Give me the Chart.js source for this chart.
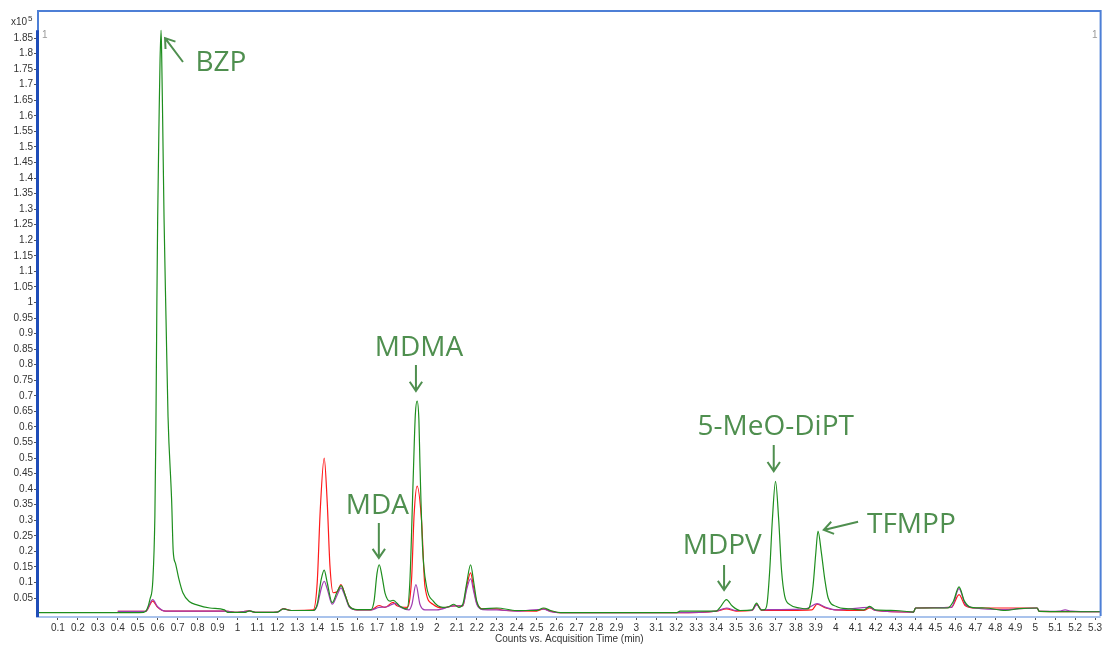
<!DOCTYPE html>
<html>
<head>
<meta charset="utf-8">
<script src="https://cdn.jsdelivr.net/npm/chart.js@4.4.1/dist/chart.umd.min.js"></script>
<style>
    html, body { margin: 0; padding: 0; background: #fff; }
    #wrap { width: 1104px; height: 647px; position: relative; }
</style>
</head>
<body>
<div id="wrap"><canvas id="chart-eic"></canvas></div>
<script>
// acquisition time (min) / counts (x10^5)
const greenTime = [0, 0.4, 0.53, 0.546, 0.561, 0.576, 0.586, 0.591, 0.596, 0.6, 0.607, 0.612, 0.617, 0.62, 0.625, 0.632, 0.642, 0.652, 0.67, 0.678, 0.69, 0.705, 0.727, 0.76, 0.797, 0.862, 0.935, 0.95, 1.0, 1.04, 1.06, 1.09, 1.2, 1.23, 1.27, 1.38, 1.4, 1.42, 1.435, 1.45, 1.475, 1.5, 1.52, 1.54, 1.56, 1.6, 1.67, 1.685, 1.7, 1.711, 1.725, 1.74, 1.765, 1.78, 1.815, 1.85, 1.865, 1.881, 1.892, 1.901, 1.91, 1.915, 1.928, 1.948, 1.982, 2.03, 2.06, 2.085, 2.11, 2.13, 2.15, 2.169, 2.185, 2.2, 2.23, 2.3, 2.4, 2.5, 2.535, 2.57, 2.62, 3.2, 3.22, 3.4, 3.42, 3.452, 3.48, 3.52, 3.58, 3.603, 3.625, 3.644, 3.656, 3.669, 3.682, 3.698, 3.714, 3.728, 3.744, 3.77, 3.82, 3.86, 3.87, 3.886, 3.9, 3.911, 3.928, 3.945, 3.962, 4.003, 4.07, 4.14, 4.17, 4.2, 4.3, 4.39, 4.4, 4.56, 4.59, 4.618, 4.645, 4.68, 4.75, 4.85, 4.92, 5.01, 5.02, 5.33];
const greenCounts = [0.003, 0.003, 0.004, 0.013, 0.045, 0.109, 0.312, 0.582, 1.0, 1.27, 1.59, 1.78, 1.875, 1.8, 1.59, 1.27, 0.945, 0.633, 0.365, 0.2, 0.16, 0.115, 0.066, 0.038, 0.028, 0.018, 0.012, 0.004, 0.004, 0.004, 0.009, 0.004, 0.005, 0.015, 0.01, 0.01, 0.03, 0.11, 0.14, 0.1, 0.035, 0.07, 0.09, 0.06, 0.025, 0.013, 0.013, 0.04, 0.13, 0.157, 0.12, 0.066, 0.04, 0.043, 0.024, 0.015, 0.109, 0.43, 0.64, 0.683, 0.62, 0.485, 0.216, 0.088, 0.04, 0.02, 0.022, 0.03, 0.02, 0.03, 0.1, 0.157, 0.1, 0.04, 0.015, 0.018, 0.01, 0.01, 0.018, 0.01, 0.003, 0.003, 0.008, 0.008, 0.02, 0.045, 0.025, 0.01, 0.012, 0.034, 0.012, 0.013, 0.034, 0.14, 0.3, 0.425, 0.3, 0.14, 0.056, 0.029, 0.018, 0.015, 0.024, 0.088, 0.195, 0.265, 0.195, 0.11, 0.05, 0.023, 0.015, 0.012, 0.023, 0.012, 0.01, 0.005, 0.018, 0.018, 0.04, 0.086, 0.04, 0.02, 0.018, 0.01, 0.016, 0.018, 0.007, 0.006];

const redTime = [0.4, 0.54, 0.575, 0.6, 0.64, 0.94, 1.0, 1.06, 1.09, 1.2, 1.23, 1.27, 1.38, 1.4, 1.415, 1.435, 1.45, 1.464, 1.48, 1.5, 1.519, 1.54, 1.56, 1.6, 1.67, 1.71, 1.74, 1.78, 1.8, 1.85, 1.873, 1.886, 1.901, 1.923, 1.94, 1.98, 2.03, 2.085, 2.13, 2.15, 2.169, 2.185, 2.2, 2.23, 2.3, 2.34, 2.5, 2.535, 2.57, 2.62, 3.2, 3.4, 3.452, 3.5, 3.58, 3.603, 3.63, 3.88, 3.906, 3.95, 4.0, 4.14, 4.17, 4.2, 4.39, 4.4, 4.58, 4.618, 4.65, 4.7, 5.01, 5.02, 5.33];
const redCounts = [0.007, 0.007, 0.04, 0.02, 0.008, 0.008, 0.004, 0.009, 0.004, 0.005, 0.016, 0.01, 0.012, 0.1, 0.33, 0.5, 0.36, 0.152, 0.067, 0.07, 0.093, 0.06, 0.025, 0.012, 0.012, 0.026, 0.02, 0.036, 0.025, 0.02, 0.11, 0.32, 0.41, 0.3, 0.088, 0.03, 0.018, 0.025, 0.025, 0.09, 0.131, 0.08, 0.035, 0.015, 0.015, 0.01, 0.008, 0.015, 0.008, 0.003, 0.003, 0.008, 0.015, 0.008, 0.01, 0.03, 0.01, 0.012, 0.03, 0.018, 0.012, 0.01, 0.018, 0.01, 0.005, 0.018, 0.02, 0.061, 0.025, 0.018, 0.018, 0.007, 0.006];

const purpleTime = [0.4, 0.54, 0.575, 0.6, 0.64, 0.94, 1.0, 1.06, 1.09, 1.2, 1.23, 1.27, 1.38, 1.4, 1.42, 1.435, 1.45, 1.475, 1.5, 1.519, 1.54, 1.56, 1.6, 1.67, 1.71, 1.75, 1.79, 1.82, 1.86, 1.875, 1.895, 1.915, 1.94, 2.0, 2.085, 2.13, 2.15, 2.169, 2.185, 2.2, 2.23, 2.3, 2.4, 2.535, 2.57, 2.62, 3.2, 3.4, 3.452, 3.5, 3.58, 3.603, 3.63, 3.7, 3.85, 3.906, 3.95, 4.0, 4.17, 4.2, 4.39, 4.4, 4.58, 4.618, 4.65, 4.7, 4.85, 4.92, 5.01, 5.02, 5.12, 5.15, 5.18, 5.33];
const purpleCounts = [0.007, 0.007, 0.045, 0.022, 0.008, 0.008, 0.004, 0.009, 0.004, 0.005, 0.015, 0.01, 0.01, 0.025, 0.08, 0.104, 0.08, 0.03, 0.06, 0.083, 0.055, 0.022, 0.012, 0.012, 0.02, 0.022, 0.033, 0.02, 0.012, 0.03, 0.093, 0.03, 0.012, 0.012, 0.025, 0.025, 0.08, 0.112, 0.07, 0.03, 0.013, 0.012, 0.008, 0.014, 0.006, 0.003, 0.003, 0.008, 0.018, 0.01, 0.01, 0.028, 0.012, 0.013, 0.015, 0.032, 0.02, 0.012, 0.02, 0.01, 0.005, 0.018, 0.02, 0.08, 0.03, 0.018, 0.013, 0.016, 0.018, 0.007, 0.008, 0.012, 0.008, 0.006];

const xTicks = [0.1, 0.2, 0.3, 0.4, 0.5, 0.6, 0.7, 0.8, 0.9, 1, 1.1, 1.2, 1.3, 1.4, 1.5, 1.6, 1.7, 1.8, 1.9, 2, 2.1, 2.2, 2.3, 2.4, 2.5, 2.6, 2.7, 2.8, 2.9, 3, 3.1, 3.2, 3.3, 3.4, 3.5, 3.6, 3.7, 3.8, 3.9, 4, 4.1, 4.2, 4.3, 4.4, 4.5, 4.6, 4.7, 4.8, 4.9, 5, 5.1, 5.2, 5.3];
const yTicks = [0.05, 0.1, 0.15, 0.2, 0.25, 0.3, 0.35, 0.4, 0.45, 0.5, 0.55, 0.6, 0.65, 0.7, 0.75, 0.8, 0.85, 0.9, 0.95, 1, 1.05, 1.1, 1.15, 1.2, 1.25, 1.3, 1.35, 1.4, 1.45, 1.5, 1.55, 1.6, 1.65, 1.7, 1.75, 1.8, 1.85];

// compound labels: text position and arrow (tail -> tip), in data units
const peakNames  = ['BZP', 'MDMA', 'MDA', '5-MeO-DiPT', 'MDPV', 'TFMPP'];
const labelTime  = [0.917, 1.91, 1.702, 3.699, 3.431, 4.379];
const labelCount = [1.773, 0.857, 0.349, 0.603, 0.221, 0.288];
const arrowFrom  = [[0.727, 1.773], [1.895, 0.799], [1.709, 0.291], [3.689, 0.542], [3.44, 0.156], [4.112, 0.295]];
const arrowTo    = [[0.637, 1.85], [1.895, 0.716], [1.709, 0.179], [3.689, 0.458], [3.44, 0.076], [3.94, 0.269]];

const toPoints = (ts, vs) => ts.map((t, i) => ({ x: t, y: vs[i] }));
const fmt = v => String(Math.round(v * 100) / 100);

const ANNOT = '#4f8f4f';

const framePlugin = {
    id: 'frame',
    afterDraw(chart) {
        const { ctx, chartArea: a, scales: { x, y } } = chart;
        ctx.save();

        // frame
        ctx.strokeStyle = '#4d7fd6';
        ctx.lineWidth = 2;
        ctx.beginPath();
        ctx.moveTo(a.left - 1, a.top);
        ctx.lineTo(a.right, a.top);
        ctx.lineTo(a.right, a.bottom);
        ctx.moveTo(a.left, a.top);
        ctx.lineTo(a.left, y.getPixelForValue(1.87));
        ctx.stroke();

        ctx.strokeStyle = '#a9c3ec';
        ctx.beginPath();
        ctx.moveTo(a.left - 2, a.bottom + 1);
        ctx.lineTo(a.right, a.bottom + 1);
        ctx.stroke();

        ctx.strokeStyle = '#1f4db8';
        ctx.lineWidth = 3;
        ctx.beginPath();
        ctx.moveTo(a.left - 0.5, y.getPixelForValue(1.875));
        ctx.lineTo(a.left - 0.5, a.bottom + 1);
        ctx.stroke();

        // exponent + small "1" markers
        ctx.fillStyle = '#333';
        ctx.font = '10px "Liberation Sans"';
        ctx.textBaseline = 'middle';
        ctx.textAlign = 'left';
        ctx.fillText('x10', 11, 22);
        ctx.font = '8px "Liberation Sans"';
        ctx.fillText('5', 28, 19);
        ctx.fillStyle = '#999';
        ctx.font = '10px "Liberation Sans"';
        ctx.fillText('1', a.left + 4, 35);
        ctx.textAlign = 'right';
        ctx.fillText('1', a.right - 3, 35);

        // axis title
        ctx.fillStyle = '#333';
        ctx.textAlign = 'center';
        ctx.fillText('Counts vs. Acquisition Time (min)', (a.left + a.right) / 2, 639);

        // peak names and arrows
        ctx.fillStyle = ANNOT;
        ctx.strokeStyle = ANNOT;
        ctx.lineWidth = 2;
        ctx.font = '28px "Open Sans"';
        ctx.textAlign = 'center';
        ctx.textBaseline = 'middle';
        peakNames.forEach((name, i) => {
            ctx.fillText(name, x.getPixelForValue(labelTime[i]), y.getPixelForValue(labelCount[i]) + 1);
            const x1 = x.getPixelForValue(arrowFrom[i][0]), y1 = y.getPixelForValue(arrowFrom[i][1]);
            const x2 = x.getPixelForValue(arrowTo[i][0]),   y2 = y.getPixelForValue(arrowTo[i][1]);
            const ang = Math.atan2(y2 - y1, x2 - x1);
            const head = 11, spread = 0.6;
            ctx.beginPath();
            ctx.moveTo(x1, y1);
            ctx.lineTo(x2, y2);
            ctx.moveTo(x2 - head * Math.cos(ang - spread), y2 - head * Math.sin(ang - spread));
            ctx.lineTo(x2, y2);
            ctx.lineTo(x2 - head * Math.cos(ang + spread), y2 - head * Math.sin(ang + spread));
            ctx.stroke();
        });

        ctx.restore();
    }
};

const lineSet = (label, ts, vs, color, order) => ({
    label,
    order,
    data: toPoints(ts, vs),
    borderColor: color,
    borderWidth: 1.2,
    pointRadius: 0,
    fill: false,
    cubicInterpolationMode: 'monotone'
});

const canvas = document.getElementById('chart-eic');
canvas.width = 1104;
canvas.height = 647;

new Chart(canvas.getContext('2d'), {
    type: 'line',
    data: {
        datasets: [
            lineSet('green', greenTime, greenCounts, '#1e8e1e', 0),
            lineSet('purple', purpleTime, purpleCounts, '#a03cb0', 1),
            lineSet('red', redTime, redCounts, '#ff1a1a', 2)
        ]
    },
    options: {
        responsive: false,
        animation: false,
        layout: { padding: { top: 11, right: 3, left: 0, bottom: 0 } },
        plugins: { legend: { display: false }, tooltip: { enabled: false } },
        scales: {
            x: {
                type: 'linear',
                min: 0,
                max: 5.328,
                afterBuildTicks: s => { s.ticks = xTicks.map(v => ({ value: v })); },
                afterFit: s => { s.height = 31; },
                border: { display: false },
                grid: { drawOnChartArea: false, drawTicks: true, tickLength: 4, color: '#555' },
                ticks: {
                    autoSkip: false, maxRotation: 0, minRotation: 0, padding: 2,
                    color: '#333', font: { family: 'Liberation Sans', size: 10 },
                    callback: v => fmt(v)
                }
            },
            y: {
                type: 'linear',
                min: -0.0077,
                max: 1.937,
                afterBuildTicks: s => { s.ticks = yTicks.map(v => ({ value: v })); },
                afterFit: s => { s.width = 38; },
                border: { display: false },
                grid: { drawOnChartArea: false, drawTicks: true, tickLength: 4, color: '#555' },
                ticks: {
                    autoSkip: false, padding: 1,
                    color: '#333', font: { family: 'Liberation Sans', size: 10 },
                    callback: v => fmt(v)
                }
            }
        }
    },
    plugins: [framePlugin]
});
</script>
</body>
</html>
